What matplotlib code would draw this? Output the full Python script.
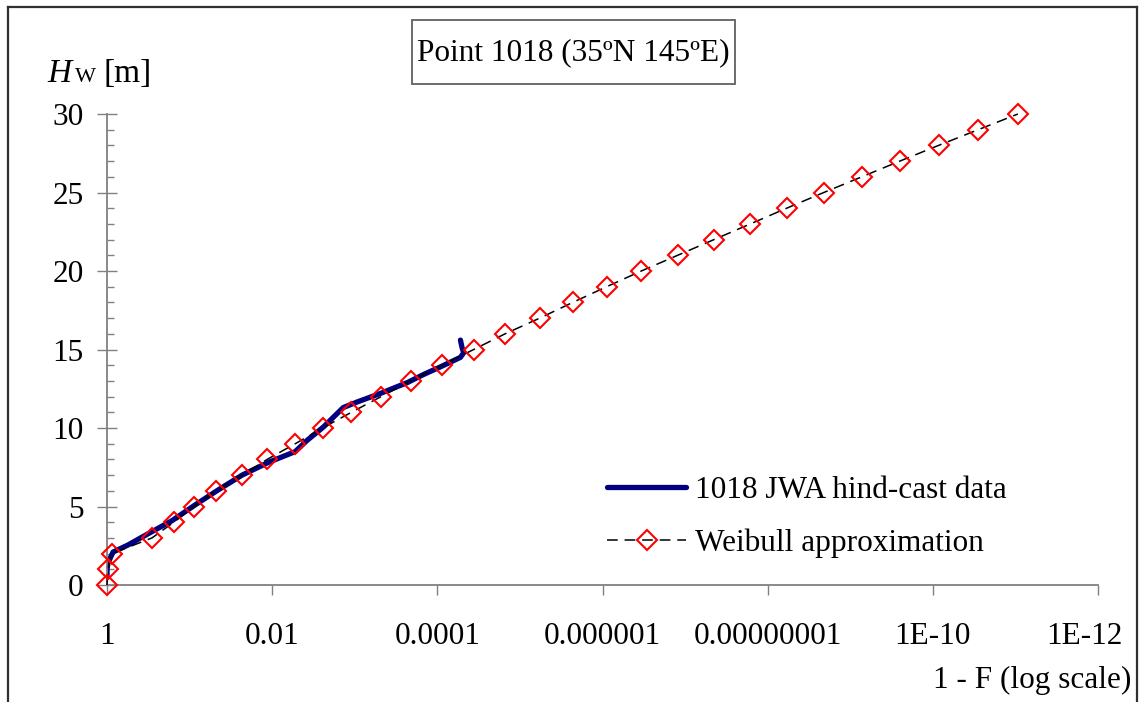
import matplotlib
matplotlib.use("Agg")
import matplotlib.pyplot as plt
from matplotlib.lines import Line2D
from matplotlib.patches import Rectangle
from matplotlib.transforms import ScaledTranslation
from matplotlib.ticker import FixedLocator, FixedFormatter, MultipleLocator, NullLocator

plt.rcParams['font.family'] = ['Liberation Serif', 'DejaVu Serif']

# Weibull approximation: wave height [m] vs exceedance probability 1 - F
weibull_h = list(range(0, 31))
weibull_p = [1.0, 0.977, 0.871, 0.285, 0.155, 0.0891, 0.0479, 0.0229, 0.0115,
             5.25e-3, 2.45e-3, 1.10e-3, 4.79e-4, 2.09e-4, 8.71e-5, 3.63e-5,
             1.51e-5, 5.75e-6, 2.29e-6, 8.91e-7, 3.39e-7, 1.23e-7, 4.47e-8,
             1.62e-8, 5.89e-9, 2.09e-9, 7.24e-10, 2.51e-10, 8.51e-11,
             2.82e-11, 9.33e-12]

# JWA hind-cast data (point 1018)
hind_p = [1.0, 0.998, 0.973, 0.845, 0.556, 0.377, 0.285, 0.163, 0.0857,
          0.0452, 0.0231, 0.0112, 5.25e-3, 3.80e-3, 2.40e-3, 1.38e-3,
          9.33e-4, 4.90e-4, 2.29e-4, 1.48e-4, 9.12e-5, 5.25e-5, 4.79e-5,
          5.01e-5, 5.25e-5]
hind_h = [0.5, 1.0, 1.4, 2.1, 2.55, 3.05, 3.4, 4.1, 5.1, 6.05, 7.0, 7.8, 8.5,
          9.2, 10.06, 11.3, 11.66, 12.2, 12.9, 13.4, 13.9, 14.5, 14.8, 15.1,
          15.6]

xticks = [1, 1e-2, 1e-4, 1e-6, 1e-8, 1e-10, 1e-12]
xticklabels = ["1", "0.01", "0.0001", "0.000001", "0.00000001", "1E-10", "1E-12"]

W, H = 1139, 702
FS = 22.5
fig = plt.figure(figsize=(W / 100, H / 100), dpi=100)
ax = fig.add_axes([107 / W, 1 - 585 / H, (1098 - 107) / W, (585 - 114) / H])

ax.plot(hind_p, hind_h, color="#000080", lw=3.8, solid_capstyle="round",
        solid_joinstyle="round", label="1018 JWA hind-cast data", zorder=2)
ax.plot(weibull_p, weibull_h, color="black", lw=1.1, ls=(0, (7, 4.5)),
        marker="D", ms=10.5, mfc="none", mec="red", mew=1.5, clip_on=False,
        label="Weibull approximation", zorder=3)

ax.set_xscale("log")
ax.set_xlim(1, 1e-12)
ax.set_ylim(0, 30)

ax.xaxis.set_major_locator(FixedLocator(xticks))
ax.xaxis.set_major_formatter(FixedFormatter(xticklabels))
ax.xaxis.set_minor_locator(NullLocator())
ax.yaxis.set_major_locator(MultipleLocator(5))
ax.yaxis.set_minor_locator(MultipleLocator(1))

ax.tick_params(axis="x", which="major", direction="out", length=7, width=1,
               color="#808080", labelsize=FS, pad=20)
ax.tick_params(axis="y", which="major", direction="inout", length=14, width=1,
               color="#808080", labelsize=FS, pad=10)
ax.tick_params(axis="y", which="minor", direction="in", length=5, width=1,
               color="#808080")

# last label is pulled inward so it stays inside the frame
last = ax.get_xticklabels()[-1]
last.set_transform(last.get_transform() + ScaledTranslation(-0.14, 0, fig.dpi_scale_trans))

for s in ["top", "right"]:
    ax.spines[s].set_visible(False)
for s in ["left", "bottom"]:
    ax.spines[s].set_color("#808080")
    ax.spines[s].set_linewidth(1.3)

leg = ax.legend(loc="upper left", bbox_to_anchor=(0.505, 0.232), frameon=False,
                fontsize=FS, handlelength=2.5, handletextpad=0.3,
                labelspacing=0.76, borderpad=0, borderaxespad=0, numpoints=1)

# title box
fig.add_artist(Rectangle((412 / W, 1 - 84 / H), (735 - 412) / W, 64 / H,
                         transform=fig.transFigure, fc="white", ec="#606060",
                         lw=1.3))
fig.text(573.5 / W, 1 - 53 / H, "Point 1018 (35ºN 145ºE)", fontsize=FS,
         ha="center", va="center")

# axis labels
fig.text(47 / W, 1 - 82 / H, "H", fontsize=24, style="italic", ha="left",
         va="baseline")
fig.text(75 / W, 1 - 82 / H, "W", fontsize=16, ha="left", va="baseline")
fig.text(103 / W, 1 - 82 / H, "[m]", fontsize=24, ha="left", va="baseline")
fig.text(1131 / W, 1 - 688 / H, "1 - F (log scale)", fontsize=FS, ha="right",
         va="baseline")

# outer frame (open at the bottom)
fc = "#303030"
fig.add_artist(Line2D([8 / W, 8 / W], [0, 1 - 7 / H], color=fc, lw=1.6))
fig.add_artist(Line2D([8 / W, 1137 / W], [1 - 7 / H, 1 - 7 / H], color=fc, lw=1.6))
fig.add_artist(Line2D([1137 / W, 1137 / W], [0, 1 - 7 / H], color=fc, lw=1.6))

fig.savefig("out.png", dpi=100)
